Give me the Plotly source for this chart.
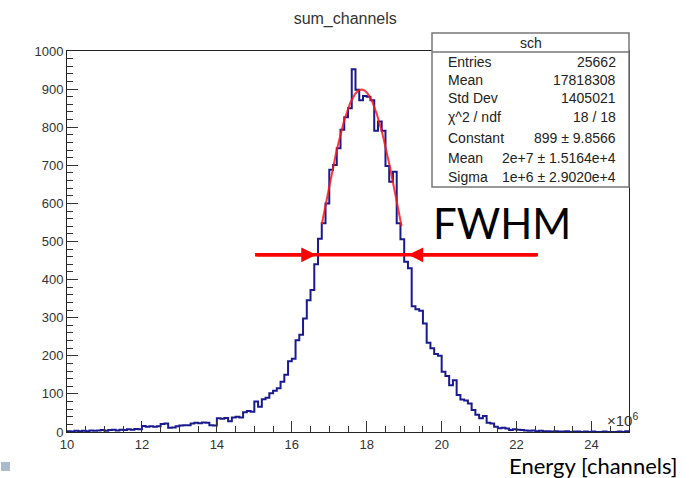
import numpy as np
import plotly.graph_objects as go

# ---------------- data ----------------
bin_start = 10.0      # x10^6 channels
bin_width = 0.1
counts = [
    2, 1, 3, 2, 3, 2, 4, 3, 4, 5, 3, 5, 6, 4, 6, 5, 7, 6, 8, 7,          # 10.0-11.9
    16, 14, 15, 14, 15, 21, 22, 11, 12, 15,                              # 12.0-12.9
    17, 18, 18, 22, 24, 23, 25, 24, 18, 17,                              # 13.0-13.9
    36, 35, 37, 28, 38, 40, 38, 52, 55, 53,                              # 14.0-14.9
    80, 66, 86, 90, 102, 108, 115, 132, 150, 186,                        # 15.0-15.9
    192, 241, 255, 298, 346, 373, 440, 507, 548, 600,                    # 16.0-16.9
    688, 701, 745, 793, 826, 850, 952, 898, 871, 882,                    # 17.0-17.9
    880, 871, 791, 815, 791, 698, 657, 683, 548, 506,                    # 18.0-18.9
    447, 430, 330, 322, 318, 285, 234, 220, 205, 200,                    # 19.0-19.9
    158, 147, 123, 136, 97, 85, 83, 75, 58, 45,                          # 20.0-20.9
    36, 42, 24, 22, 14, 10, 11, 9, 5, 7,                                 # 21.0-21.9
    6, 5, 4, 3, 4, 2, 3, 2, 2, 1,                                        # 22.0-22.9
    2, 1, 1, 2, 0, 1, 1, 0, 1, 0,                                        # 23.0-23.9
    1, 0, 0, 1, 0, 0, 0, 1, 0, 2,                                        # 24.0-24.9
]

# Gaussian fit parameters (x in 1e6 units)
fit_constant = 899.0
fit_mean = 17.86
fit_sigma = 1.06
fit_range = (16.8, 18.93)

# FWHM arrow annotation
fwhm_level = 465
fwhm_left_tip, fwhm_right_tip = 16.65, 19.11
fwhm_line_start, fwhm_line_end = 15.02, 22.57

stats_title = "sch"
stats_labels = ["Entries", "Mean", "Std Dev", "\u03c7^2 / ndf", "Constant", "Mean", "Sigma"]
stats_values = ["25662", "17818308", "1405021", "18 / 18", "899 \u00b1 9.8566",
                "2e+7 \u00b1 1.5164e+4", "1e+6 \u00b1 2.9020e+4"]

x_ticks = [10, 12, 14, 16, 18, 20, 22, 24]
y_ticks = list(range(0, 1001, 100))

# ---------------- figure ----------------
W, H = 691, 478
L, R, T, B = 67, 629, 51, 432


def px(xp):
    return (xp - L) / (R - L)


def py(yp):
    return (B - yp) / (B - T)


n = len(counts)
edges = bin_start + bin_width * np.arange(n + 1)
step_x = list(edges)
step_y = list(counts) + [counts[-1]]

fig = go.Figure()
fig.add_trace(go.Scatter(
    x=step_x, y=step_y, mode="lines", line=dict(color="#1a1a8f", width=2, shape="hv"),
    hoverinfo="skip", showlegend=False))

xf = np.linspace(fit_range[0], fit_range[1], 200)
yf = fit_constant * np.exp(-0.5 * ((xf - fit_mean) / fit_sigma) ** 2)
fig.add_trace(go.Scatter(x=xf, y=yf, mode="lines", line=dict(color="rgba(255,20,20,0.85)", width=2),
                         hoverinfo="skip", showlegend=False))

fig.update_layout(
    width=W, height=H, margin=dict(l=L, r=W - R, t=T, b=H - B),
    paper_bgcolor="white", plot_bgcolor="white",
    font=dict(family="Liberation Sans, Arial, sans-serif", size=13, color="#333"),
    showlegend=False,
    title=dict(text="sum_channels", x=(L + (R - L) * 0.5) / W - 0.004, xanchor="center",
               y=1 - 18 / H, yanchor="middle",
               font=dict(size=16, color="#333")),
)
fig.update_xaxes(range=[10, 25], tickvals=x_ticks, ticktext=[str(v) for v in x_ticks],
                 ticks="inside", ticklen=11, tickwidth=1, tickcolor="#333",
                 minor=dict(ticks="inside", ticklen=6, dtick=0.5, tick0=10, tickcolor="#333"),
                 showline=True, linecolor="#222", linewidth=1, mirror=True,
                 showgrid=False, zeroline=False, fixedrange=True)
fig.update_yaxes(range=[0, 1000], tickvals=y_ticks, ticktext=[str(v) for v in y_ticks],
                 ticks="inside", ticklen=11, tickwidth=1, tickcolor="#333",
                 minor=dict(ticks="inside", ticklen=6, dtick=20, tick0=0, tickcolor="#333"),
                 showline=True, linecolor="#222", linewidth=1, mirror=True,
                 showgrid=False, zeroline=False, fixedrange=True)

shapes = []
annos = []

# FWHM line and arrows
shapes.append(dict(type="line", xref="x", yref="y", x0=fwhm_line_start, x1=fwhm_line_end,
                   y0=fwhm_level, y1=fwhm_level, line=dict(color="#ff0000", width=3.5)))
for tip, tail in [(fwhm_left_tip, fwhm_line_start), (fwhm_right_tip, fwhm_line_end)]:
    annos.append(dict(x=tip, y=fwhm_level, xref="x", yref="y", ax=tail, ay=fwhm_level,
                      axref="x", ayref="y", text="", showarrow=True, arrowhead=2,
                      arrowsize=0.85, arrowwidth=3.5, arrowcolor="#ff0000", standoff=0))

annos.append(dict(x=px(431), y=py(223), xref="paper", yref="paper", text="FWHM",
                  showarrow=False, xanchor="left", yanchor="middle",
                  font=dict(family="Lato, sans-serif", size=42, color="black")))

# stats box
shapes.append(dict(type="rect", xref="paper", yref="paper", x0=px(432), x1=px(629),
                   y0=py(187), y1=py(33), line=dict(color="#777", width=1.5), fillcolor="white",
                   layer="above"))
shapes.append(dict(type="line", xref="paper", yref="paper", x0=px(432), x1=px(629),
                   y0=py(52), y1=py(52), line=dict(color="#777", width=1.5), layer="above"))
annos.append(dict(x=px(531), y=py(43), xref="paper", yref="paper", text=stats_title,
                  showarrow=False, xanchor="center", yanchor="middle",
                  font=dict(size=14, color="#222")))
row_y = [62, 80, 98, 117, 138, 158, 177]
for lab, val, yy in zip(stats_labels, stats_values, row_y):
    annos.append(dict(x=px(446), y=py(yy), xref="paper", yref="paper", text=lab,
                      showarrow=False, xanchor="left", yanchor="middle",
                      font=dict(size=14, color="#222")))
    annos.append(dict(x=px(618), y=py(yy), xref="paper", yref="paper", text=val,
                      showarrow=False, xanchor="right", yanchor="middle",
                      font=dict(size=14, color="#222")))

# x10^6 and axis title
annos.append(dict(x=px(605), y=py(419), xref="paper", yref="paper", text="\u00d710<sup>6</sup>",
                  showarrow=False, xanchor="left", yanchor="middle",
                  font=dict(size=15, color="#333")))
annos.append(dict(x=px(680), y=py(465), xref="paper", yref="paper", text="Energy [channels]",
                  showarrow=False, xanchor="right", yanchor="middle",
                  font=dict(family="Lato, sans-serif", size=22, color="black")))

# small artifact square bottom-left
shapes.append(dict(type="rect", xref="paper", yref="paper", x0=px(1), x1=px(10),
                   y0=py(471), y1=py(462), line=dict(width=0), fillcolor="#aabbd0"))

fig.update_layout(shapes=shapes, annotations=annos)
fig.write_html("out.html")
